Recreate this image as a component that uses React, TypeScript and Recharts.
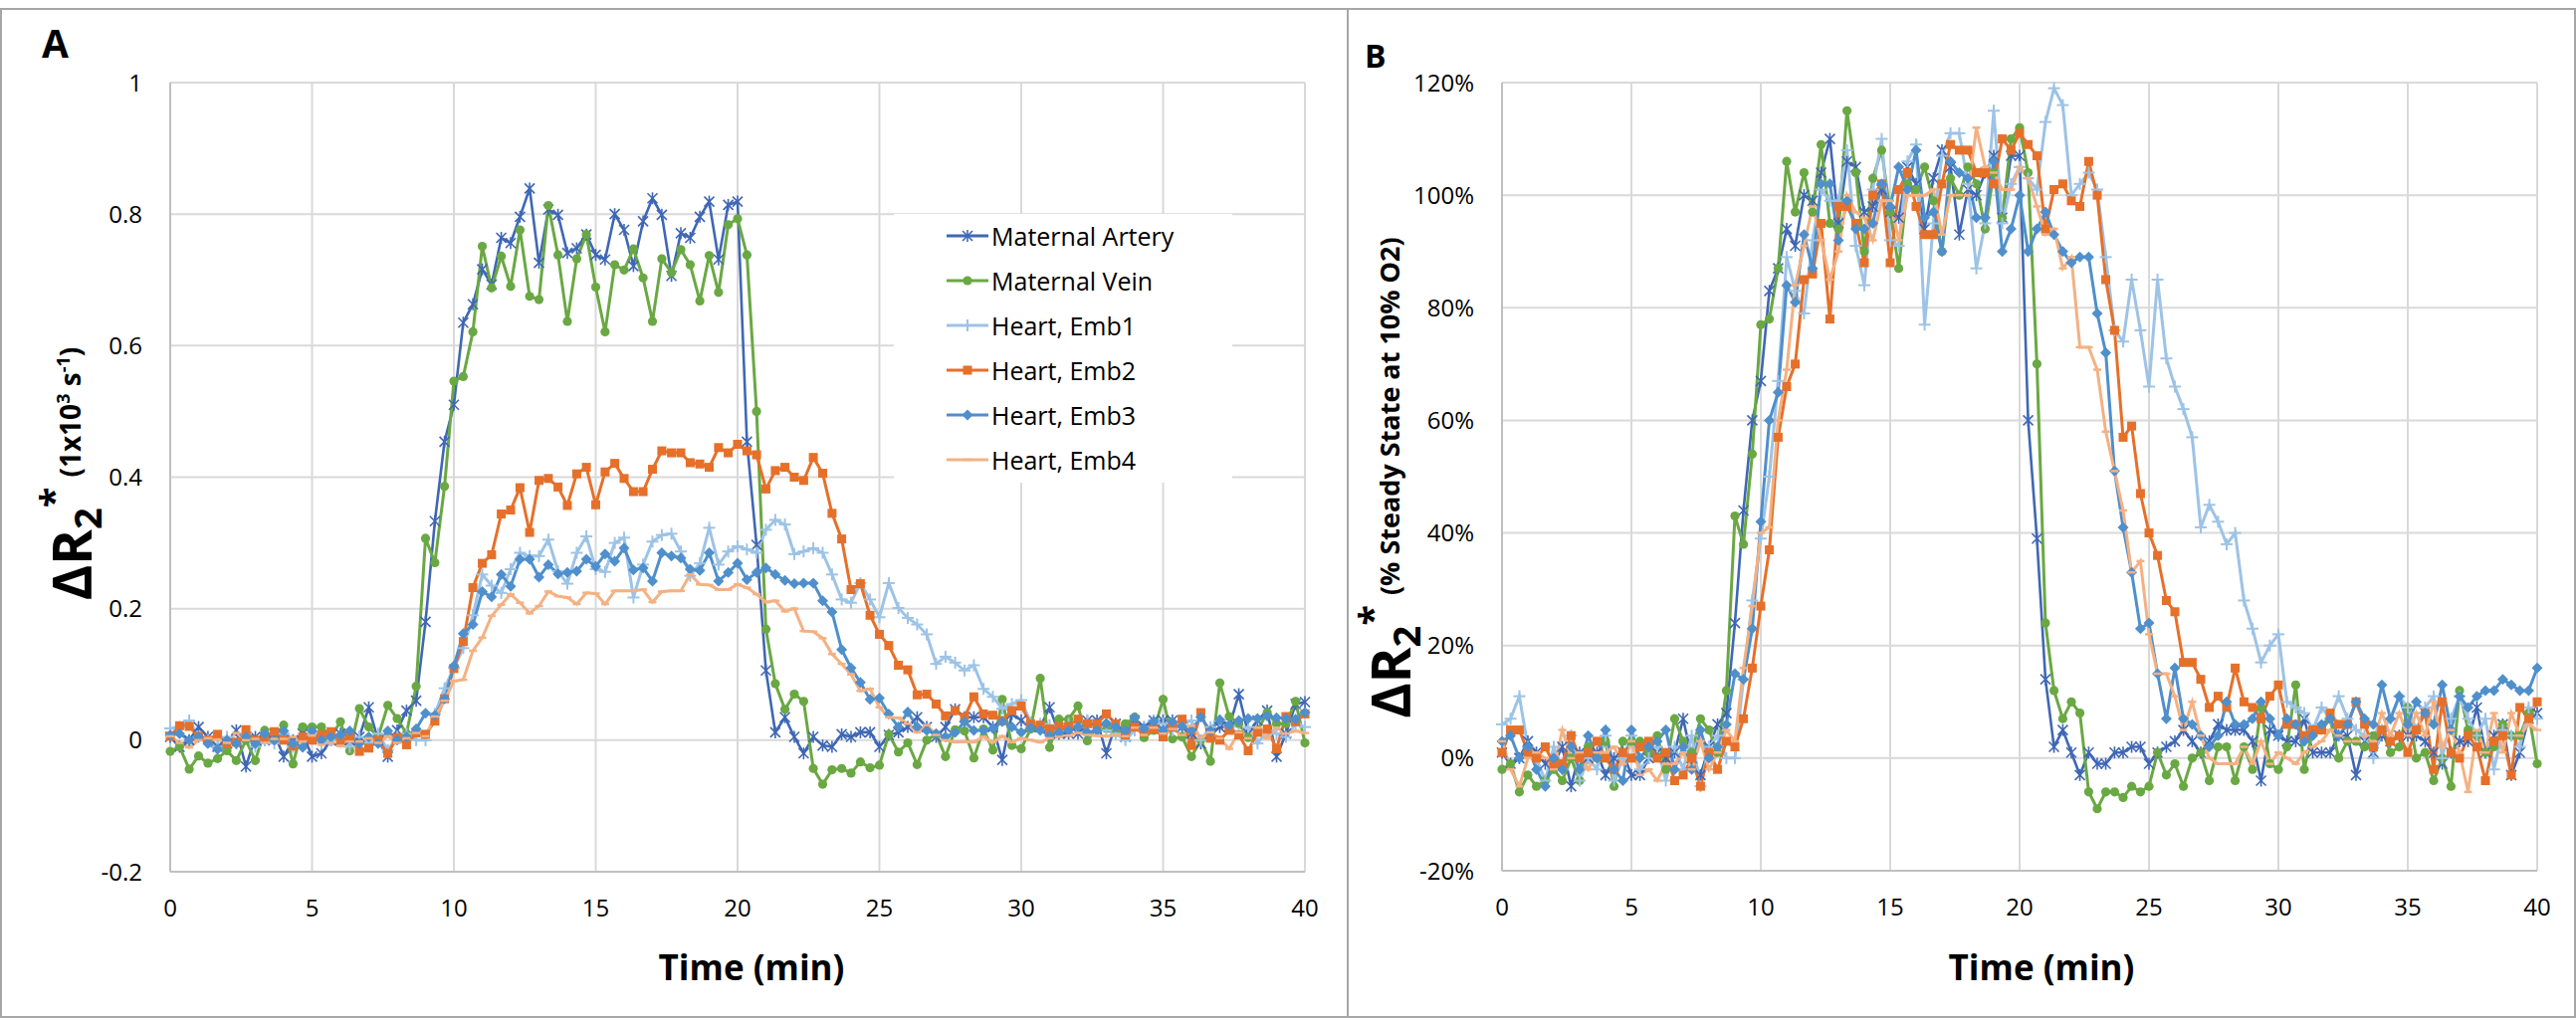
import React from 'react';
import { LineChart, Line, XAxis, YAxis, CartesianGrid } from 'recharts';

// time points (min), one scan every 20 s
const time = [
  0, 0.33, 0.67, 1, 1.33, 1.67, 2, 2.33, 2.67, 3,
  3.33, 3.67, 4, 4.33, 4.67, 5, 5.33, 5.67, 6, 6.33,
  6.67, 7, 7.33, 7.67, 8, 8.33, 8.67, 9, 9.33, 9.67,
  10, 10.33, 10.67, 11, 11.33, 11.67, 12, 12.33, 12.67, 13,
  13.33, 13.67, 14, 14.33, 14.67, 15, 15.33, 15.67, 16, 16.33,
  16.67, 17, 17.33, 17.67, 18, 18.33, 18.67, 19, 19.33, 19.67,
  20, 20.33, 20.67, 21, 21.33, 21.67, 22, 22.33, 22.67, 23,
  23.33, 23.67, 24, 24.33, 24.67, 25, 25.33, 25.67, 26, 26.33,
  26.67, 27, 27.33, 27.67, 28, 28.33, 28.67, 29, 29.33, 29.67,
  30, 30.33, 30.67, 31, 31.33, 31.67, 32, 32.33, 32.67, 33,
  33.33, 33.67, 34, 34.33, 34.67, 35, 35.33, 35.67, 36, 36.33,
  36.67, 37, 37.33, 37.67, 38, 38.33, 38.67, 39, 39.33, 39.67,
  40,
];

// ---- panel A: delta R2* (1x10^3 s^-1) ----
const arteryA = [
  0.005, -0.01, 0, 0.02, 0.005, -0.01, -0.005, 0.015, -0.04, 0.005,
  0, 0.01, -0.025, 0, 0.01, -0.025, -0.02, 0, 0.01, 0,
  0.005, 0.05, 0, -0.025, 0.015, 0.045, 0.06, 0.18, 0.333, 0.454,
  0.51, 0.635, 0.663, 0.716, 0.693, 0.764, 0.756, 0.796, 0.839, 0.726,
  0.807, 0.799, 0.741, 0.748, 0.769, 0.738, 0.731, 0.8, 0.776, 0.721,
  0.789, 0.824, 0.799, 0.706, 0.771, 0.764, 0.796, 0.819, 0.731, 0.814,
  0.819, 0.454, 0.297, 0.106, 0.012, 0.035, 0.005, -0.02, 0.005, -0.008,
  -0.01, 0.009, 0.005, 0.012, 0.012, -0.01, 0.008, 0.012, 0.02, 0.035,
  0.02, 0.005, 0.02, 0.047, 0.035, 0.035, 0.035, 0.02, -0.03, 0.04,
  0.03, 0.02, 0.02, 0.05, 0.01, 0.01, 0.01, 0.03, 0.03, -0.02,
  0.025, 0.005, 0.03, 0.02, 0.03, 0.03, 0.03, 0.02, 0.01, -0.005,
  0.01, 0.02, 0.02, 0.07, 0.01, 0.03, 0.045, -0.025, 0.01, 0.055,
  0.058,
];
const veinA = [
  -0.017, -0.01, -0.044, -0.024, -0.035, -0.028, -0.016, -0.031, 0, -0.031,
  0.015, 0, 0.023, -0.036, 0.02, 0.02, 0.02, 0.005, 0.028, -0.016,
  0.048, 0.02, 0.005, 0.053, 0.033, 0.01, 0.082, 0.307, 0.27, 0.386,
  0.546, 0.553, 0.621, 0.751, 0.688, 0.736, 0.69, 0.776, 0.675, 0.67,
  0.813, 0.738, 0.637, 0.732, 0.769, 0.689, 0.621, 0.723, 0.715, 0.747,
  0.703, 0.637, 0.732, 0.711, 0.746, 0.723, 0.668, 0.737, 0.681, 0.784,
  0.793, 0.738, 0.5, 0.169, 0.086, 0.047, 0.07, 0.059, -0.043, -0.067,
  -0.045, -0.043, -0.05, -0.033, -0.042, -0.038, 0.009, -0.018, -0.004, -0.037,
  0, 0.009, -0.025, 0.016, 0.014, -0.027, 0.017, -0.015, 0.062, -0.008,
  -0.013, 0.017, 0.094, -0.011, 0.032, 0.032, 0.052, -0.001, 0.02, 0.018,
  0.012, 0.025, 0.035, 0.004, 0.015, 0.062, 0.002, 0.005, -0.025, 0,
  -0.032, 0.087, 0.036, 0.025, 0.004, 0.015, 0.042, 0.025, 0.025, 0.059,
  -0.004,
];
const emb1A = [
  0.018, 0.02, 0.03, 0.005, 0, -0.01, 0.005, -0.005, 0.01, -0.01,
  0, -0.005, 0.01, -0.01, 0, 0.01, -0.005, 0, 0.005, -0.01,
  0.005, -0.005, 0.01, -0.015, 0.005, 0.01, 0, 0, 0.04, 0.079,
  0.11, 0.14, 0.19, 0.252, 0.235, 0.224, 0.26, 0.285, 0.28, 0.28,
  0.305, 0.257, 0.238, 0.285, 0.31, 0.26, 0.256, 0.3, 0.308, 0.217,
  0.267, 0.302, 0.312, 0.314, 0.287, 0.25, 0.269, 0.323, 0.267, 0.287,
  0.295, 0.29, 0.285, 0.32, 0.335, 0.328, 0.283, 0.287, 0.292, 0.285,
  0.252, 0.214, 0.209, 0.239, 0.214, 0.187, 0.239, 0.201, 0.186, 0.176,
  0.161, 0.116, 0.127, 0.118, 0.106, 0.114, 0.078, 0.066, 0.048, 0.055,
  0.061, 0.027, 0.025, 0.023, 0.015, 0.025, 0.02, 0.03, 0.02, 0.015,
  0.01, 0, 0.015, 0.02, 0.03, 0.025, 0.015, 0.025, 0.03, 0,
  0.02, 0.03, 0.02, 0.01, 0.02, -0.005, 0.015, 0.01, 0.005, 0.025,
  0.02,
];
const emb2A = [
  0.006, 0.022, 0.021, 0.006, 0, 0.009, -0.005, -0.003, 0.016, 0,
  0.005, 0.013, 0, -0.009, 0.005, 0, 0.008, 0.013, 0, 0.005,
  -0.017, -0.012, 0, -0.02, 0.004, -0.007, 0.011, 0.009, 0.029, 0.063,
  0.109, 0.15, 0.232, 0.269, 0.282, 0.344, 0.35, 0.384, 0.316, 0.395,
  0.398, 0.385, 0.357, 0.405, 0.415, 0.358, 0.408, 0.421, 0.398, 0.378,
  0.378, 0.412, 0.44, 0.437, 0.437, 0.422, 0.42, 0.415, 0.445, 0.437,
  0.45, 0.44, 0.434, 0.382, 0.41, 0.415, 0.4, 0.395, 0.43, 0.406,
  0.345, 0.306, 0.229, 0.238, 0.19, 0.161, 0.144, 0.114, 0.107, 0.069,
  0.07, 0.055, 0.037, 0.045, 0.035, 0.066, 0.04, 0.038, 0.03, 0.045,
  0.052, 0.025, 0.023, 0.017, 0.021, 0.021, 0.032, 0.025, 0.025, 0.04,
  0.025, 0.008, 0.02, 0.012, 0.017, 0.005, 0.02, 0.032, -0.008, 0.042,
  0.003, 0, 0.015, 0.008, -0.016, 0.012, 0.017, -0.013, 0.036, 0.028,
  0.04,
];
const emb3A = [
  0.008, 0.01, 0, 0.005, -0.005, -0.014, 0, -0.005, 0.005, -0.005,
  0.01, 0, 0.014, -0.005, -0.011, 0.014, 0, 0.005, 0.008, 0.014,
  -0.005, 0.005, -0.005, 0.014, 0, 0.005, 0.017, 0.041, 0.038, 0.063,
  0.113, 0.162, 0.176, 0.226, 0.218, 0.252, 0.234, 0.275, 0.275, 0.248,
  0.267, 0.253, 0.255, 0.257, 0.275, 0.264, 0.283, 0.272, 0.292, 0.259,
  0.262, 0.242, 0.285, 0.28, 0.277, 0.26, 0.258, 0.285, 0.242, 0.255,
  0.269, 0.244, 0.255, 0.262, 0.252, 0.243, 0.238, 0.239, 0.239, 0.212,
  0.195, 0.138, 0.11, 0.088, 0.062, 0.064, 0.04, 0.02, 0.043, 0.02,
  0.015, 0.01, 0.005, 0.012, 0.028, 0.015, 0.015, 0.018, 0.028, 0.02,
  0.012, 0.019, 0.015, 0.007, 0.012, 0.015, 0.02, 0.012, 0.015, 0.026,
  0.02, 0.015, 0.034, 0.018, 0.029, 0.015, 0.028, 0.021, 0.015, 0.035,
  0.014, 0.031, 0.023, 0.03, 0.033, 0.033, 0.037, 0.034, 0.033, 0.032,
  0.042,
];
const emb4A = [
  0.006, -0.004, -0.011, 0, 0.003, 0.001, -0.004, 0.011, 0, 0.002,
  -0.004, 0.002, 0.002, 0.005, -0.002, 0.007, -0.007, -0.004, -0.009, -0.002,
  -0.002, 0.003, -0.004, 0.006, -0.004, 0.003, 0.011, 0.006, 0.036, 0.06,
  0.09, 0.092, 0.136, 0.156, 0.189, 0.206, 0.222, 0.209, 0.193, 0.204,
  0.226, 0.219, 0.217, 0.207, 0.224, 0.223, 0.207, 0.227, 0.227, 0.227,
  0.229, 0.21, 0.226, 0.227, 0.227, 0.252, 0.237, 0.236, 0.229, 0.229,
  0.237, 0.232, 0.222, 0.21, 0.212, 0.196, 0.2, 0.166, 0.165, 0.155,
  0.131, 0.116, 0.1, 0.075, 0.078, 0.05, 0.035, 0.034, 0.025, 0.012,
  0.023, 0.008, 0, -0.003, -0.002, -0.003, 0.005, -0.003, 0.006, -0.003,
  0.003, 0, -0.003, 0.003, 0.005, 0.007, 0.011, 0.008, 0.007, 0.006,
  0.008, 0.006, 0.019, 0.008, 0.019, 0.01, 0.017, 0.008, 0.022, 0.004,
  0.012, 0.003, -0.013, 0.012, 0.003, 0.019, 0.003, 0.019, 0.01, 0.014,
  0.011,
];

// ---- panel B: % of steady state at 10% O2 ----
const arteryB = [
  1, -1, 0, 3, 1, -1, -1, 2, -5, 1,
  0, 1, -3, 0, 1, -3, -3, 0, 1, 0,
  1, 7, 0, -3, 2, 6, 8, 24, 44, 60,
  67, 83, 87, 94, 91, 100, 99, 104, 110, 95,
  106, 105, 97, 98, 101, 97, 96, 105, 102, 94,
  103, 108, 105, 93, 101, 100, 104, 107, 96, 107,
  107, 60, 39, 14, 2, 5, 1, -3, 1, -1,
  -1, 1, 1, 2, 2, -1, 1, 2, 3, 5,
  3, 1, 3, 6, 5, 5, 5, 3, -4, 5,
  4, 3, 3, 7, 1, 1, 1, 4, 4, -3,
  3, 1, 4, 3, 4, 4, 4, 3, 1, -1,
  1, 3, 3, 9, 1, 4, 6, -3, 1, 7,
  8,
];
const veinB = [
  -2, -1, -6, -3, -5, -4, -2, -4, 0, -4,
  2, 0, 3, -5, 3, 3, 3, 1, 4, -2,
  7, 3, 1, 7, 5, 1, 12, 43, 38, 54,
  77, 78, 87, 106, 97, 104, 97, 109, 95, 94,
  115, 104, 90, 103, 108, 97, 87, 102, 101, 105,
  99, 90, 103, 100, 105, 102, 94, 104, 96, 110,
  112, 104, 70, 24, 12, 7, 10, 8, -6, -9,
  -6, -6, -7, -5, -6, -5, 1, -3, -1, -5,
  0, 1, -4, 2, 2, -4, 2, -2, 9, -1,
  -2, 2, 13, -2, 5, 5, 7, 0, 3, 3,
  2, 4, 5, 1, 2, 9, 0, 1, -4, 0,
  -5, 12, 5, 4, 1, 2, 6, 4, 4, 8,
  -1,
];
const emb1B = [
  6, 7, 11, 2, 0, -4, 2, -2, 4, -4,
  0, -2, 4, -4, 0, 4, -2, 0, 2, -4,
  2, -2, 4, -5, 2, 4, 0, 0, 14, 28,
  39, 50, 67, 89, 83, 79, 92, 101, 99, 99,
  108, 91, 84, 101, 110, 92, 91, 106, 109, 77,
  95, 107, 111, 111, 102, 87, 95, 115, 95, 102,
  105, 103, 101, 113, 119, 116, 100, 102, 104, 101,
  89, 76, 74, 85, 76, 66, 85, 71, 66, 62,
  57, 41, 45, 42, 38, 40, 28, 23, 17, 20,
  22, 10, 9, 8, 5, 9, 7, 11, 7, 5,
  4, 0, 5, 7, 11, 9, 5, 9, 11, 0,
  7, 11, 7, 4, 7, -2, 5, 4, 2, 9,
  7,
];
const emb2B = [
  1, 5, 5, 1, 0, 2, -1, -1, 4, 0,
  1, 3, 0, -2, 1, 0, 2, 3, 0, 1,
  -4, -3, 0, -5, 1, -2, 3, 2, 7, 16,
  27, 37, 57, 66, 70, 85, 86, 95, 78, 98,
  98, 95, 88, 100, 102, 88, 101, 104, 98, 93,
  93, 102, 109, 108, 108, 104, 104, 102, 110, 108,
  111, 109, 107, 94, 101, 102, 99, 98, 106, 100,
  85, 76, 57, 59, 47, 40, 36, 28, 26, 17,
  17, 14, 9, 11, 9, 16, 10, 9, 7, 11,
  13, 6, 6, 4, 5, 5, 8, 6, 6, 10,
  6, 2, 5, 3, 4, 1, 5, 8, -2, 10,
  1, 0, 4, 2, -4, 3, 4, -3, 9, 7,
  10,
];
const emb3B = [
  3, 4, 0, 2, -2, -5, 0, -2, 2, -2,
  4, 0, 5, -2, -4, 5, 0, 2, 3, 5,
  -2, 2, -2, 5, 0, 2, 6, 15, 14, 23,
  42, 60, 65, 84, 81, 93, 87, 102, 102, 92,
  99, 94, 94, 95, 102, 98, 105, 101, 108, 96,
  97, 90, 106, 104, 103, 96, 96, 106, 90, 94,
  100, 90, 94, 97, 93, 90, 88, 89, 89, 79,
  72, 51, 41, 33, 23, 24, 15, 7, 16, 7,
  6, 4, 2, 4, 10, 6, 6, 7, 10, 7,
  4, 7, 6, 3, 4, 6, 7, 4, 6, 10,
  7, 6, 13, 7, 11, 6, 10, 8, 6, 13,
  5, 11, 9, 11, 12, 12, 14, 13, 12, 12,
  16,
];
const emb4B = [
  3, -2, -5, 0, 1, 0, -2, 5, 0, 1,
  -2, 1, 1, 2, -1, 3, -3, -2, -4, -1,
  -1, 1, -2, 3, -2, 1, 5, 3, 16, 27,
  40, 41, 60, 69, 84, 91, 98, 92, 85, 90,
  100, 97, 96, 92, 99, 99, 92, 100, 100, 100,
  101, 93, 100, 100, 100, 112, 105, 104, 101, 101,
  105, 103, 98, 93, 94, 87, 89, 73, 73, 69,
  58, 51, 44, 33, 35, 22, 15, 15, 11, 5,
  10, 4, 0, -1, -1, -1, 2, -1, 3, -1,
  1, 0, -1, 1, 2, 3, 5, 4, 3, 3,
  4, 3, 8, 4, 8, 4, 8, 4, 10, 2,
  5, 1, -6, 5, 1, 8, 1, 8, 4, 6,
  5,
];

const xTicks = [0, 5, 10, 15, 20, 25, 30, 35, 40];
const yTicksA = [-0.2, 0, 0.2, 0.4, 0.6, 0.8, 1];
const yTicksB = [-20, 0, 20, 40, 60, 80, 100, 120];

const rowsA = time.map((t, i) => ({
  t, ma: arteryA[i], mv: veinA[i], e1: emb1A[i], e2: emb2A[i], e3: emb3A[i], e4: emb4A[i],
}));
const rowsB = time.map((t, i) => ({
  t, ma: arteryB[i], mv: veinB[i], e1: emb1B[i], e2: emb2B[i], e3: emb3B[i], e4: emb4B[i],
}));

type Marker = 'star' | 'circle' | 'plus' | 'square' | 'diamond' | 'dash';

const series: { key: string; name: string; color: string; marker: Marker; width: number }[] = [
  { key: 'ma', name: 'Maternal Artery', color: '#3f67b5', marker: 'star', width: 2.6 },
  { key: 'mv', name: 'Maternal Vein', color: '#6aa843', marker: 'circle', width: 3 },
  { key: 'e1', name: 'Heart, Emb1', color: '#9dc3e6', marker: 'plus', width: 3 },
  { key: 'e2', name: 'Heart, Emb2', color: '#e6702a', marker: 'square', width: 3 },
  { key: 'e3', name: 'Heart, Emb3', color: '#4f8fcc', marker: 'diamond', width: 3 },
  { key: 'e4', name: 'Heart, Emb4', color: '#f4b183', marker: 'dash', width: 3 },
];

const FONT = '"Open Sans", sans-serif';

function markerShape(marker: Marker, color: string, cx: number, cy: number, key?: string) {
  switch (marker) {
    case 'star':
      return (
        <g key={key} stroke={color} strokeWidth={1.6}>
          <line x1={cx - 5} y1={cy - 5} x2={cx + 5} y2={cy + 5} />
          <line x1={cx - 5} y1={cy + 5} x2={cx + 5} y2={cy - 5} />
          <line x1={cx} y1={cy - 6} x2={cx} y2={cy + 6} />
        </g>
      );
    case 'circle':
      return <circle key={key} cx={cx} cy={cy} r={4.6} fill={color} />;
    case 'plus':
      return (
        <g key={key} stroke={color} strokeWidth={2}>
          <line x1={cx - 6} y1={cy} x2={cx + 6} y2={cy} />
          <line x1={cx} y1={cy - 6} x2={cx} y2={cy + 6} />
        </g>
      );
    case 'square':
      return <rect key={key} x={cx - 4.5} y={cy - 4.5} width={9} height={9} fill={color} />;
    case 'diamond':
      return (
        <polygon
          key={key}
          points={`${cx},${cy - 5.5} ${cx + 5.5},${cy} ${cx},${cy + 5.5} ${cx - 5.5},${cy}`}
          fill={color}
        />
      );
    default:
      return <line key={key} x1={cx - 4} y1={cy} x2={cx + 4} y2={cy} stroke={color} strokeWidth={2.5} />;
  }
}

const dotFor = (marker: Marker, color: string) => (p: any) => {
  const k = `${marker}-${p.index}`;
  if (p.cx == null || p.cy == null) return <g key={k} />;
  return markerShape(marker, color, p.cx, p.cy, k);
};

const tickStyle = { fontSize: 24, fill: '#000', fontFamily: FONT };
const axisLine = { stroke: '#bfbfbf', strokeWidth: 2 };

function Panel({ data, yDomain, yTicks, fmt, width, margin }: any) {
  return (
    <LineChart width={width} height={1025} data={data} margin={margin}>
      <CartesianGrid stroke="#d9d9d9" strokeWidth={2} />
      <XAxis
        type="number"
        dataKey="t"
        domain={[0, 40]}
        ticks={xTicks}
        tickSize={0}
        tickMargin={28}
        tickLine={false}
        axisLine={axisLine}
        tick={tickStyle}
        height={60}
      />
      <YAxis
        type="number"
        domain={yDomain}
        ticks={yTicks}
        tickFormatter={fmt}
        tickSize={0}
        tickMargin={28}
        tickLine={false}
        axisLine={axisLine}
        tick={tickStyle}
        width={80}
      />
      {series.map((s) => (
        <Line
          key={s.key}
          type="linear"
          dataKey={s.key}
          name={s.name}
          stroke={s.color}
          strokeWidth={s.width}
          dot={dotFor(s.marker, s.color)}
          activeDot={false}
          isAnimationActive={false}
        />
      ))}
    </LineChart>
  );
}

function LegendBox() {
  return (
    <div style={{ position: 'absolute', left: 898, top: 215, width: 340, height: 270, background: '#fff' }}>
      {series.map((s, i) => (
        <div
          key={s.key}
          style={{ position: 'absolute', left: 53, top: 22 + i * 45 - 15, height: 30, display: 'flex', alignItems: 'center' }}
        >
          <svg width={42} height={30} style={{ display: 'block' }}>
            <line x1={0} y1={15} x2={42} y2={15} stroke={s.color} strokeWidth={3} />
            {markerShape(s.marker, s.color, 21, 15)}
          </svg>
          <span style={{ marginLeft: 3, fontSize: 25, fontFamily: FONT, color: '#000', whiteSpace: 'nowrap', lineHeight: '30px' }}>
            {s.name}
          </span>
        </div>
      ))}
    </div>
  );
}

export default function App() {
  return (
    <div style={{ position: 'absolute', left: 0, top: 0, width: 2588, height: 1025, background: '#fff', overflow: 'hidden' }}>
      <div style={{ position: 'absolute', left: 0, top: 8, width: 1355, height: 1015, border: '2px solid #a6a6a6', boxSizing: 'border-box' }} />
      <div style={{ position: 'absolute', left: 1353, top: 8, width: 1235, height: 1015, border: '2px solid #a6a6a6', boxSizing: 'border-box' }} />

      <div style={{ position: 'absolute', left: 0, top: 0 }}>
        <Panel
          data={rowsA}
          yDomain={[-0.2, 1]}
          yTicks={yTicksA}
          fmt={(v: number) => String(v)}
          width={1353}
          margin={{ top: 83, right: 42, bottom: 89, left: 91 }}
        />
      </div>
      <div style={{ position: 'absolute', left: 1354, top: 0 }}>
        <Panel
          data={rowsB}
          yDomain={[-20, 120]}
          yTicks={yTicksB}
          fmt={(v: number) => `${v}%`}
          width={1234}
          margin={{ top: 83, right: 39, bottom: 90, left: 75 }}
        />
      </div>

      <LegendBox />

      <svg width={2588} height={1025} style={{ position: 'absolute', left: 0, top: 0, pointerEvents: 'none' }}>
        <g fontFamily={FONT} fontWeight="bold" fill="#000">
          <text x={42} y={58} fontSize={39}>A</text>
          <text x={1371} y={68} fontSize={32}>B</text>

          <text x={755} y={985} fontSize={35} textAnchor="middle">Time (min)</text>
          <text x={2051} y={985} fontSize={35} textAnchor="middle">Time (min)</text>

          <text x={92} y={476} transform="rotate(-90 92 476)" textAnchor="middle">
            <tspan fontSize={54}>ΔR</tspan>
            <tspan fontSize={38} dy={10}>2</tspan>
            <tspan fontSize={38} dy={-34}>*</tspan>
            <tspan fontSize={28} dy={13} dx={10}>(1x10</tspan>
            <tspan fontSize={18} dy={-11}>3</tspan>
            <tspan fontSize={28} dy={11}> s</tspan>
            <tspan fontSize={18} dy={-11}>-1</tspan>
            <tspan fontSize={28} dy={11}>)</tspan>
          </text>

          <text x={1417} y={480} transform="rotate(-90 1417 480)" textAnchor="middle">
            <tspan fontSize={54}>ΔR</tspan>
            <tspan fontSize={38} dy={10}>2</tspan>
            <tspan fontSize={38} dy={-34}>*</tspan>
            <tspan fontSize={27} dy={13} dx={10}>(% Steady State at 10% O2)</tspan>
          </text>
        </g>
      </svg>
    </div>
  );
}
